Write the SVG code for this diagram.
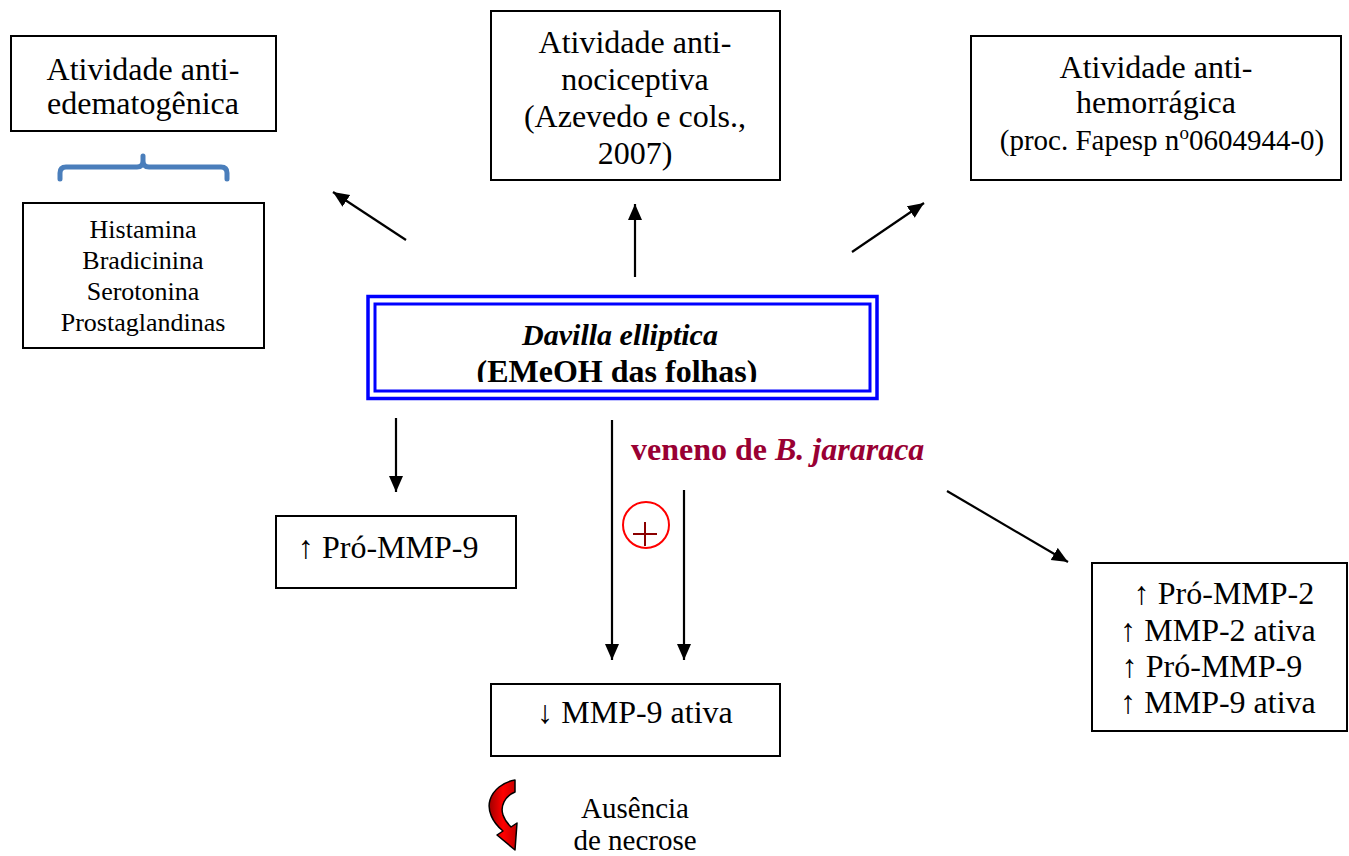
<svg xmlns="http://www.w3.org/2000/svg" width="1349" height="856" viewBox="0 0 1349 856">
<style>
.box{fill:#fff;stroke:#000;stroke-width:2}
.t{font-family:"Liberation Serif","Times New Roman",serif;font-size:32px;fill:#000;text-anchor:middle}
.s{font-size:26px}
.c{stroke:#000;stroke-width:2.2;fill:none;marker-end:url(#ah)}
</style>
<defs>
<marker id="ah" markerUnits="userSpaceOnUse" markerWidth="18" markerHeight="16" refX="16" refY="7" orient="auto">
<path d="M0,0 L16,7 L0,14 Z" fill="#000"/>
</marker>
<clipPath id="clipC"><rect x="367" y="295" width="511" height="87"/></clipPath>
<linearGradient id="rg" x1="0" y1="0" x2="1" y2="0">
<stop offset="0" stop-color="#a00000"/>
<stop offset="0.5" stop-color="#ff0000"/>
<stop offset="1" stop-color="#c00000"/>
</linearGradient>
</defs>

<g id="edema">
<rect class="box" x="11" y="36" width="265" height="95"/>
<text class="t" x="143" y="80">Atividade anti-</text>
<text class="t" x="143" y="114">edematogênica</text>
</g>

<g id="bracket">
<path d="M60,179 L60,173 Q60,167 66,167 L137,167 Q143,167 143,161 L143,156 M143,161 Q143,167 149,167 L221,167 Q227,167 227,173 L227,179" fill="none" stroke="#4a7ebb" stroke-width="5" stroke-linecap="round"/>
</g>

<g id="mediadores">
<rect class="box" x="23" y="203" width="241" height="145"/>
<text class="t s" x="143" y="238">Histamina</text>
<text class="t s" x="143" y="269">Bradicinina</text>
<text class="t s" x="143" y="300">Serotonina</text>
<text class="t s" x="143" y="331">Prostaglandinas</text>
</g>

<g id="nociceptiva">
<rect class="box" x="491" y="11" width="289" height="169"/>
<text class="t" x="635" y="53">Atividade anti-</text>
<text class="t" x="635" y="90">nociceptiva</text>
<text class="t" x="635" y="127">(Azevedo e cols.,</text>
<text class="t" x="635" y="164">2007)</text>
</g>

<g id="hemorragica">
<rect class="box" x="971" y="36" width="370" height="144"/>
<text class="t" x="1156" y="78">Atividade anti-</text>
<text class="t" x="1156" y="113">hemorrágica</text>
<text class="t" x="1162" y="150" style="font-size:29px">(proc. Fapesp n<tspan dy="-11" style="font-size:19px">o</tspan><tspan dy="11">0604944-0)</tspan></text>
</g>

<g id="davilla">
<rect x="368" y="296.5" width="509" height="102" fill="#fff" stroke="#0000ff" stroke-width="3.5"/>
<rect x="375" y="304" width="495" height="87" fill="none" stroke="#0000ff" stroke-width="3"/>
<g clip-path="url(#clipC)">
<text class="t" x="620" y="345" style="font-weight:bold;font-style:italic;font-size:30px">Davilla elliptica</text>
<text class="t" x="617" y="382" style="font-weight:bold">(EMeOH das folhas)</text>
</g>
</g>

<g id="veneno">
<text x="631" y="460" style="font-family:'Liberation Serif','Times New Roman',serif;font-size:32px;font-weight:bold;fill:#990033">veneno de <tspan style="font-style:italic">B. jararaca</tspan></text>
</g>

<g id="plus">
<circle cx="646" cy="525" r="23" fill="none" stroke="#ff0000" stroke-width="2"/>
<path d="M633,534 L657,534 M645,522 L645,546" stroke="#8b0000" stroke-width="2" fill="none"/>
</g>

<g id="promm9">
<rect class="box" x="276" y="516" width="240" height="72"/>
<text class="t" x="298" y="558" style="text-anchor:start">↑ Pró-MMP-9</text>
</g>

<g id="mmp9ativa">
<rect class="box" x="491" y="684" width="289" height="72"/>
<text class="t" x="635" y="723">↓ MMP-9 ativa</text>
</g>

<g id="veneno-efeitos">
<rect class="box" x="1092" y="563" width="255" height="168"/>
<text class="t" x="1224" y="604">↑ Pró-MMP-2</text>
<text class="t" x="1218" y="641">↑ MMP-2 ativa</text>
<text class="t" x="1212" y="677">↑ Pró-MMP-9</text>
<text class="t" x="1218" y="713">↑ MMP-9 ativa</text>
</g>

<g id="necrose">
<path d="M515,780 L515,792 C505,796 500,806 503,815 C505,821 508,824 511,827 L517,823 L515,850 L497,835 L503,831 C492,822 487,810 490,800 C493,790 503,782 515,780 Z" fill="url(#rg)" stroke="#000" stroke-width="1.5" stroke-linejoin="round"/>
<text class="t s" x="635" y="818" style="font-size:29px">Ausência</text>
<text class="t s" x="635" y="850" style="font-size:29px">de necrose</text>
</g>

<g id="connectors">
<line class="c" x1="406" y1="240" x2="333" y2="192"/>
<line class="c" x1="635" y1="277" x2="635" y2="204"/>
<line class="c" x1="852" y1="252" x2="924" y2="203"/>
<line class="c" x1="396" y1="418" x2="396" y2="492"/>
<line class="c" x1="612" y1="420" x2="612" y2="660"/>
<line class="c" x1="684" y1="490" x2="684" y2="660"/>
<line class="c" x1="947" y1="491" x2="1068" y2="562"/>
</g>
</svg>
